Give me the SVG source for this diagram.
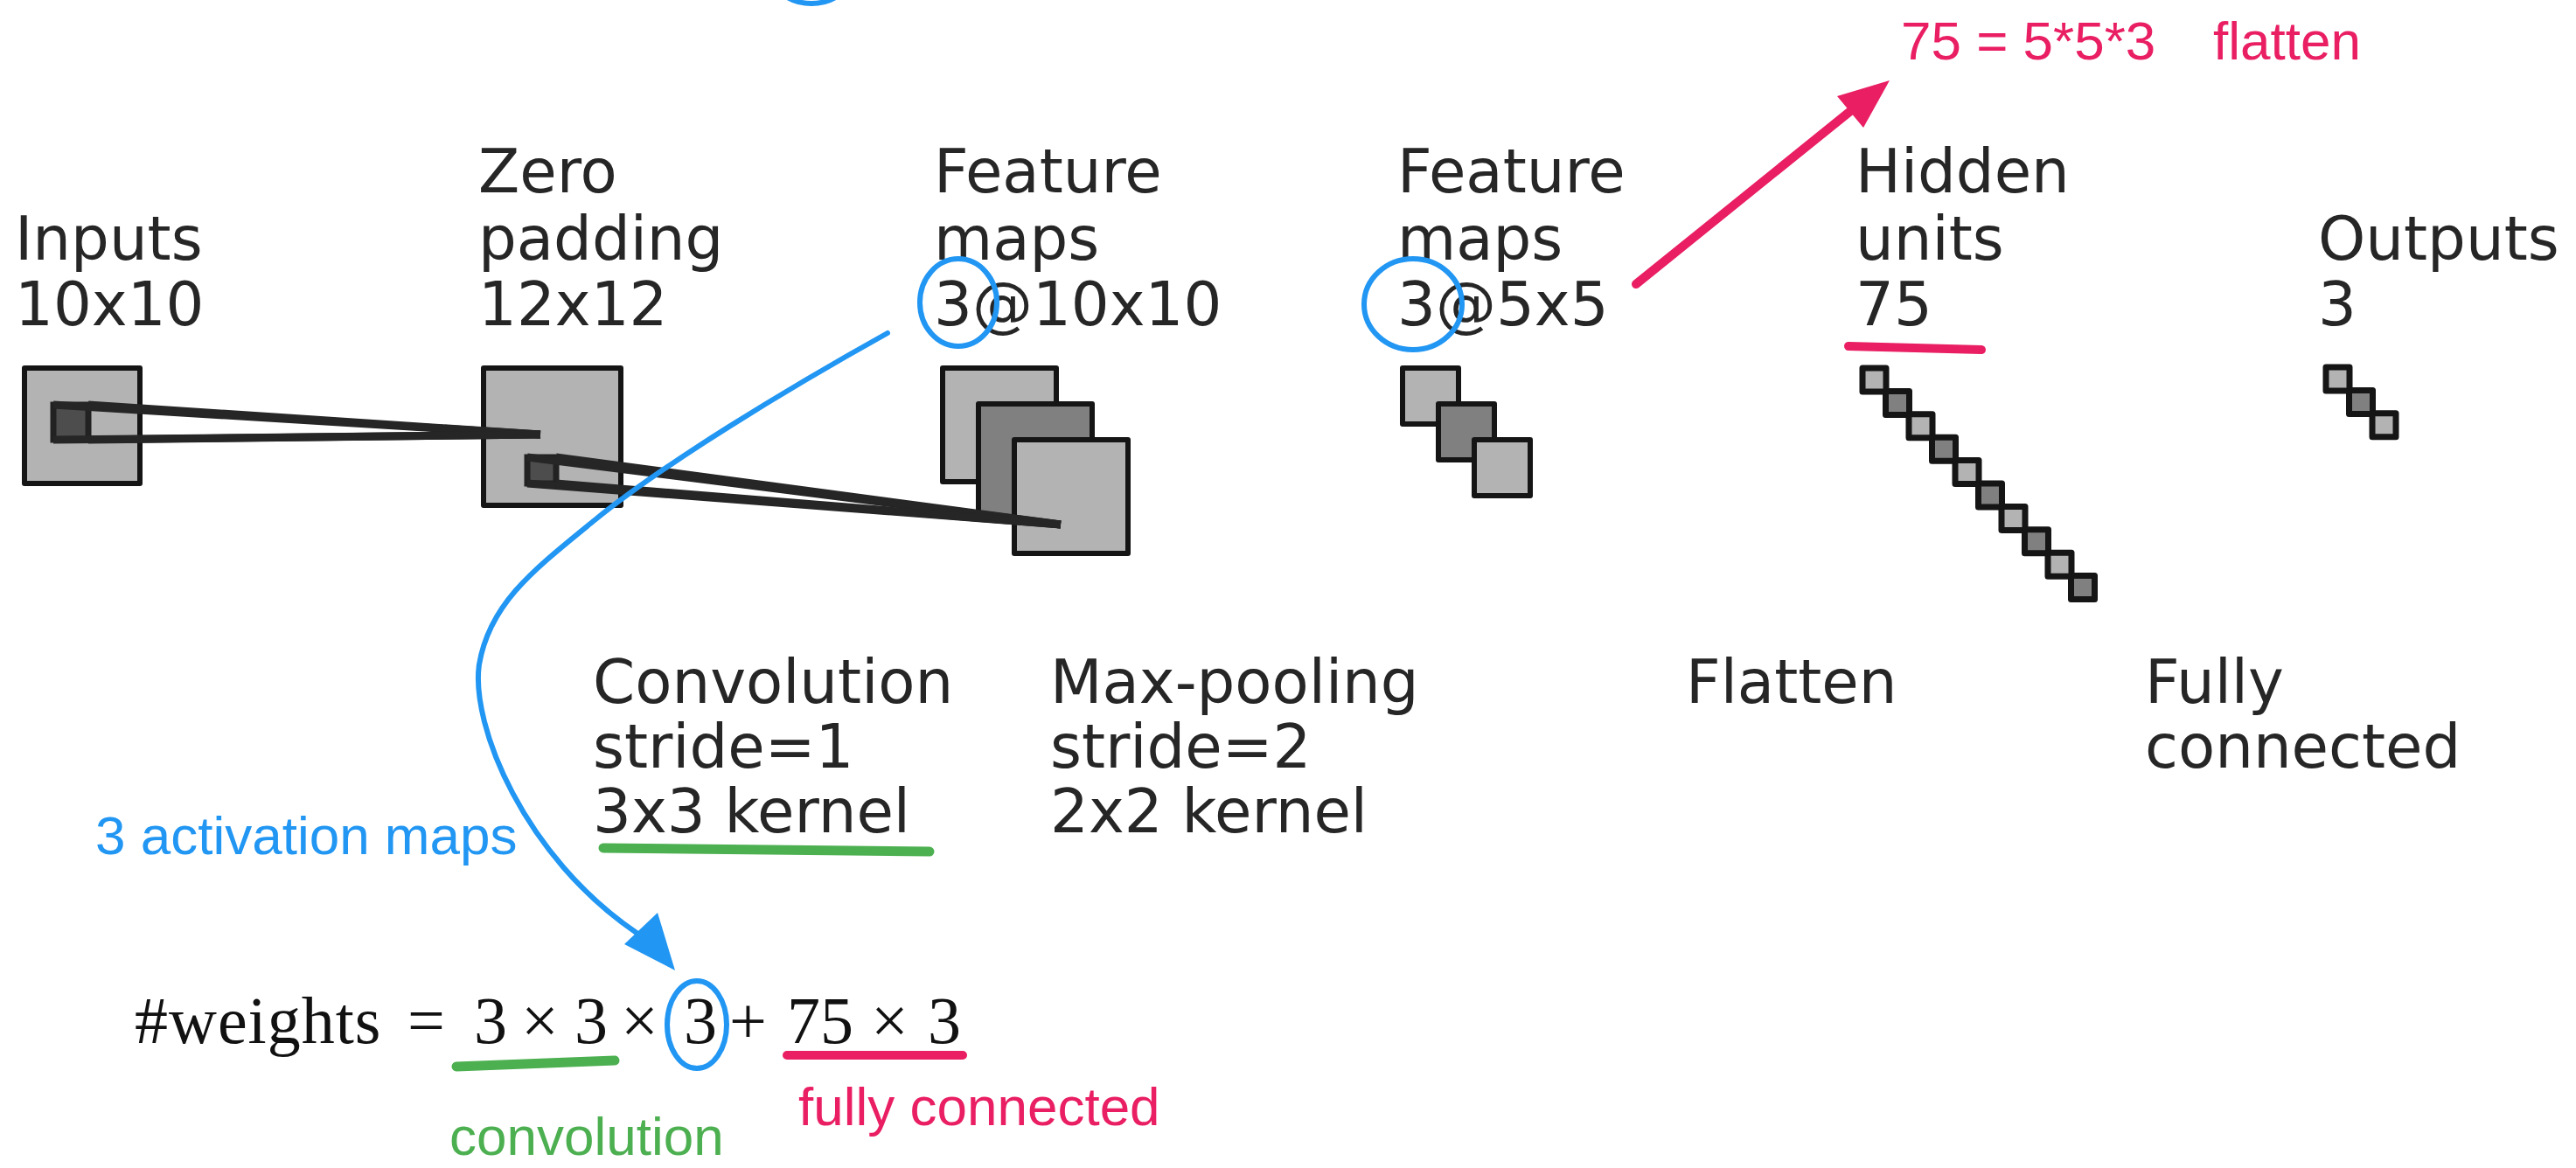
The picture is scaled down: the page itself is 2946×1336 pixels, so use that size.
<svg xmlns="http://www.w3.org/2000/svg" width="2946" height="1336" viewBox="0 0 2946 1336">
<style>
.lbl{font-family:"DejaVu Sans",sans-serif;font-size:69px;fill:#262626}
.bl{fill:#b3b3b3;stroke:#151515;stroke-width:6;stroke-linejoin:round}
.bm{fill:#808080;stroke:#151515;stroke-width:6;stroke-linejoin:round}
.sq .bl,.sq .bm{stroke-width:7}
.patch{fill:#4d4d4d;stroke:#222;stroke-width:7}
.map line{stroke:#262626;stroke-width:9}
.ann{font-family:"Liberation Sans",Arial,sans-serif;font-size:62px}
.math{font-family:"Liberation Serif","Times New Roman",serif;font-size:76px;fill:#111}
.blue{stroke:#2196f3;fill:none;stroke-width:6;stroke-linecap:round}
.pink{stroke:#e91e63;fill:none;stroke-width:10;stroke-linecap:round}
.green{stroke:#4caf50;fill:none;stroke-width:11;stroke-linecap:round}
</style>
<rect width="2946" height="1336" fill="#fff"/>

<g id="inputs">
<text class="lbl" x="17" y="297">Inputs</text>
<text class="lbl" x="17" y="372">10x10</text>
<rect class="bl" x="28" y="421" width="132" height="132"/>
</g>

<g id="zero-padding">
<text class="lbl" x="547" y="220">Zero</text>
<text class="lbl" x="547" y="297">padding</text>
<text class="lbl" x="547" y="372">12x12</text>
<rect class="bl" x="553" y="421" width="157" height="157"/>
</g>

<g id="feature-maps-1">
<text class="lbl" x="1068" y="220">Feature</text>
<text class="lbl" x="1068" y="297">maps</text>
<text class="lbl" x="1068" y="372">3@10x10</text>
<rect class="bl" x="1078" y="421" width="130" height="130"/>
<rect class="bm" x="1119" y="462" width="130" height="130"/>
<rect class="bl" x="1160" y="503" width="130" height="130"/>
</g>

<g id="feature-maps-2">
<text class="lbl" x="1598" y="220">Feature</text>
<text class="lbl" x="1598" y="297">maps</text>
<text class="lbl" x="1598" y="372">3@5x5</text>
<rect class="bl" x="1604" y="421" width="64" height="64"/>
<rect class="bm" x="1645" y="462" width="64" height="64"/>
<rect class="bl" x="1686" y="503" width="64" height="64"/>
</g>

<g id="hidden-units" class="sq">
<text class="lbl" x="2122" y="220">Hidden</text>
<text class="lbl" x="2122" y="297">units</text>
<text class="lbl" x="2122" y="372">75</text>
<rect class="bl" x="2130" y="421" width="27" height="27"/>
<rect class="bm" x="2156.5" y="447.4" width="27" height="27"/>
<rect class="bl" x="2183" y="473.8" width="27" height="27"/>
<rect class="bm" x="2209.5" y="500.2" width="27" height="27"/>
<rect class="bl" x="2236" y="526.6" width="27" height="27"/>
<rect class="bm" x="2262.5" y="553" width="27" height="27"/>
<rect class="bl" x="2289" y="579.4" width="27" height="27"/>
<rect class="bm" x="2315.5" y="605.8" width="27" height="27"/>
<rect class="bl" x="2342" y="632.2" width="27" height="27"/>
<rect class="bm" x="2368.5" y="658.6" width="27" height="27"/>
</g>

<g id="outputs" class="sq">
<text class="lbl" x="2651" y="297">Outputs</text>
<text class="lbl" x="2651" y="372">3</text>
<rect class="bl" x="2660" y="420" width="27" height="27"/>
<rect class="bm" x="2686.5" y="446.4" width="27" height="27"/>
<rect class="bl" x="2713" y="472.8" width="27" height="27"/>
</g>

<g id="op-convolution">
<text class="lbl" x="678" y="804">Convolution</text>
<text class="lbl" x="678" y="878">stride=1</text>
<text class="lbl" x="678" y="952">3x3 kernel</text>
</g>
<g id="op-maxpool">
<text class="lbl" x="1201" y="804">Max-pooling</text>
<text class="lbl" x="1201" y="878">stride=2</text>
<text class="lbl" x="1201" y="952">2x2 kernel</text>
</g>
<g id="op-flatten">
<text class="lbl" x="1928" y="804">Flatten</text>
</g>
<g id="op-fc">
<text class="lbl" x="2453" y="804">Fully</text>
<text class="lbl" x="2453" y="878">connected</text>
</g>

<g id="connectors" class="map">
<rect class="patch" x="61" y="463" width="40" height="40"/>
<line x1="61" y1="463" x2="618" y2="497"/>
<line x1="101" y1="463" x2="618" y2="497"/>
<line x1="61" y1="503" x2="618" y2="497"/>
<line x1="101" y1="503" x2="618" y2="497"/>
<rect class="patch" x="603" y="523" width="33" height="30"/>
<line x1="603" y1="523" x2="1213" y2="600"/>
<line x1="636" y1="523" x2="1213" y2="600"/>
<line x1="603" y1="553" x2="1213" y2="600"/>
<line x1="636" y1="553" x2="1213" y2="600"/>
</g>

<g id="formula">
<text class="math" y="1193"><tspan x="154" letter-spacing="1">#weights</tspan> <tspan x="466">=</tspan> <tspan x="542">3</tspan> <tspan x="596">×</tspan> <tspan x="657">3</tspan> <tspan x="710">×</tspan> <tspan x="782">3</tspan><tspan x="834">+</tspan> <tspan x="900">75</tspan> <tspan x="996">×</tspan> <tspan x="1061">3</tspan></text>
</g>

<g id="annotations">
<ellipse class="blue" cx="928" cy="-30" rx="45" ry="34" stroke-width="5"/>
<ellipse class="blue" cx="1096" cy="346" rx="44" ry="50" stroke-width="5"/>
<ellipse class="blue" cx="1616" cy="348" rx="56" ry="52" stroke-width="5"/>
<ellipse class="blue" cx="797" cy="1172" rx="34" ry="50" stroke-width="5"/>
<path class="blue" stroke-width="8" d="M1015,381 C900,445 760,530 680,595 C610,652 560,690 548,760 C538,830 600,980 728,1067"/>
<polygon fill="#2196f3" points="772,1110 714,1080 752,1044"/>
<text class="ann" x="109" y="977" fill="#2196f3">3 activation maps</text>

<line class="pink" stroke-width="8" x1="1871" y1="325" x2="2120" y2="124"/>
<polygon fill="#e91e63" points="2161,92 2131,146 2101,110"/>
<text class="ann" x="2174" y="68" fill="#e91e63">75 = 5*5*3</text>
<text class="ann" x="2531" y="68" fill="#e91e63">flatten</text>
<line class="pink" x1="2114" y1="396" x2="2266" y2="400"/>
<line class="pink" x1="900" y1="1207" x2="1101" y2="1207"/>
<text class="ann" x="913" y="1287" fill="#e91e63">fully connected</text>

<line class="green" x1="690" y1="970" x2="1063" y2="974"/>
<line class="green" x1="522" y1="1220" x2="703" y2="1213"/>
<text class="ann" x="514" y="1321" fill="#4caf50">convolution</text>
</g>
</svg>
